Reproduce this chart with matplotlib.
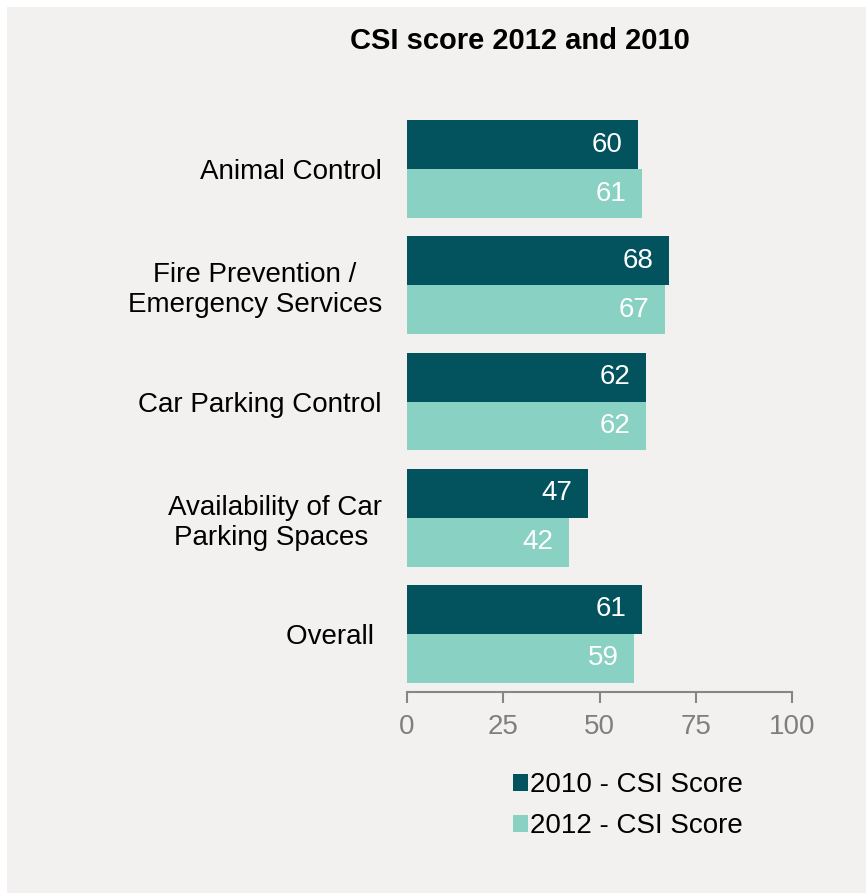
import matplotlib
matplotlib.use("Agg")
import matplotlib.pyplot as plt
from matplotlib.patches import Rectangle, Patch
import numpy as np

plt.rcParams['font.family'] = ['Liberation Sans', 'DejaVu Sans']

categories = ["Animal Control", "Fire Prevention /\nEmergency Services",
              "Car Parking Control", "Availability of Car\nParking Spaces ",
              "Overall "]
scores_2010 = [60, 68, 62, 47, 61]
scores_2012 = [61, 67, 62, 42, 59]
series_names = ["2010 - CSI Score", "2012 - CSI Score"]
x_ticks = [0, 25, 50, 75, 100]

dark = "#02535E"
light = "#89D1C3"
panel = "#F2F1EF"
axis_grey = "#868686"

W, H = 866, 893
fig = plt.figure(figsize=(W / 100, H / 100), dpi=100, facecolor="white")
fig.patches.append(Rectangle((7 / W, 0), 1, 1 - 7 / H, transform=fig.transFigure,
                             facecolor=panel, edgecolor="none", zorder=-10))

ax = fig.add_axes([407 / W, 1 - 692 / H, (792 - 407) / W, (692 - 111) / H])
ax.set_facecolor("none")

y = np.arange(len(categories))
h = 0.42
b1 = ax.barh(y - h / 2, scores_2010, height=h, color=dark, label=series_names[0])
b2 = ax.barh(y + h / 2, scores_2012, height=h, color=light, label=series_names[1])

for bars, vals in ((b1, scores_2010), (b2, scores_2012)):
    for rect, v in zip(bars, vals):
        ax.annotate(str(v), (v, rect.get_y() + rect.get_height() / 2),
                    xytext=(-11, 0), textcoords="offset points",
                    ha="right", va="center", color="white", fontsize=20)

ax.set_xlim(0, 100)
ax.set_ylim(len(categories) - 0.5, -0.5)
ax.set_yticks(y)
ax.set_yticklabels(categories, fontsize=20, ma="center")
ax.tick_params(axis="y", length=0, pad=18)
ax.set_xticks(x_ticks)
ax.tick_params(axis="x", direction="out", length=8, width=1.5, color=axis_grey,
               labelcolor="#7F7F7F", labelsize=20, pad=8)
for s in ("top", "right", "left"):
    ax.spines[s].set_visible(False)
ax.spines["bottom"].set_color(axis_grey)
ax.spines["bottom"].set_linewidth(1.5)

fig.text(520 / W, 1 - 41 / H, "CSI score 2012 and 2010", ha="center", va="center",
         fontsize=21, fontweight="bold")

handles = [Patch(facecolor=dark, label=series_names[0]),
           Patch(facecolor=light, label=series_names[1])]
fig.legend(handles=handles, loc="upper left", bbox_to_anchor=(488 / W, 1 - 747 / H),
           frameon=False, fontsize=20, handlelength=0.55, handleheight=0.55,
           handletextpad=0.05, labelspacing=0.55)

fig.savefig("out.png", dpi=100, facecolor=fig.get_facecolor())
